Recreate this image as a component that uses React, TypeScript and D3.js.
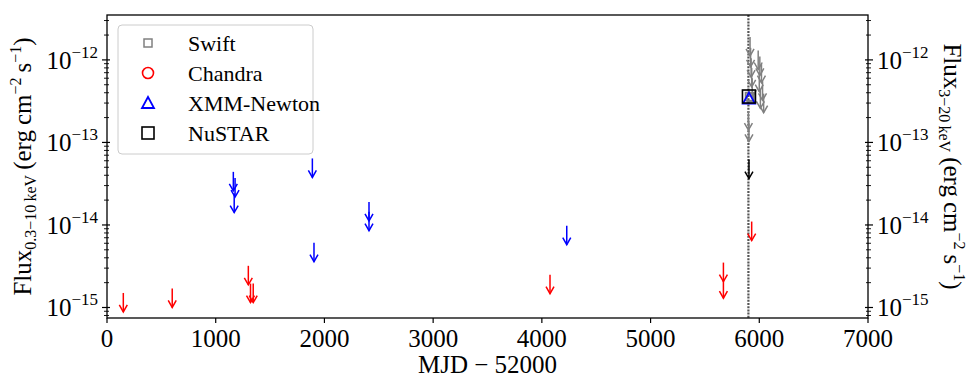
import { useEffect, useRef } from 'react'
import * as d3 from 'd3'

// upper limits (0.3-10 keV) and detections
const chandraMjd = [150, 600, 1300, 1320, 1345, 4075, 5670, 5670, 5930]
const chandraUL = [1.5e-15, 1.7e-15, 3.2e-15, 1.95e-15, 1.95e-15, 2.5e-15, 3.5e-15, 2.2e-15, 1.1e-14]

const xmmMjd = [1162, 1178, 1170, 1889, 1904, 2410, 2410, 4229]
const xmmUL = [4.4e-14, 3.7e-14, 2.4e-14, 6.4e-14, 6.1e-15, 1.9e-14, 1.45e-14, 9.8e-15]
const xmmDetMjd = [5905]
const xmmDet = [3.4e-13]

const swiftMjd = [5915, 5920, 5925, 5930, 5935, 5990, 6005, 6020, 6000, 6030, 6010, 6040, 5900, 5905]
const swiftUL = [1.9e-12, 1.4e-12, 1.05e-12, 8.0e-13, 6.0e-13, 1.3e-12, 1.1e-12, 9.0e-13, 7.0e-13, 5.5e-13, 4.4e-13, 3.9e-13, 2.4e-13, 1.75e-13]
const swiftDetMjd = [5910, 5925]
const swiftDet = [3.6e-13, 3.5e-13]

const nustarDetMjd = [5905]
const nustarDet = [3.6e-13]
const nustarUlMjd = [5905]
const nustarUL = [6.2e-14]

const markerMjd = 5900

const xTicks = [0, 1000, 2000, 3000, 4000, 5000, 6000, 7000]
const yTickExp = [-12, -13, -14, -15]
const xDomain = [0, 7000]
const yDomain = [7.46e-16, 3.5e-12]

const legendItems = [
  { label: 'Swift', color: 'gray', shape: 'smallsquare' },
  { label: 'Chandra', color: 'red', shape: 'circle' },
  { label: 'XMM-Newton', color: 'blue', shape: 'triangle' },
  { label: 'NuSTAR', color: 'black', shape: 'square' },
]

const FONT = "'Liberation Serif', 'DejaVu Serif', serif"

function App() {
  const ref = useRef<SVGSVGElement | null>(null)

  useEffect(() => {
    if (!ref.current) return
    const width = 969, height = 382
    const margin = { top: 15, right: 101, bottom: 64, left: 107 }
    const x0 = margin.left, x1 = width - margin.right
    const y0 = margin.top, y1 = height - margin.bottom

    const svg = d3.select(ref.current)
    svg.selectAll('*').remove()

    const x = d3.scaleLinear().domain(xDomain).range([x0, x1])
    const y = d3.scaleLog().domain(yDomain).range([y1, y0])

    // vertical marker line
    svg.append('line')
      .attr('x1', x(markerMjd)).attr('x2', x(markerMjd))
      .attr('y1', y0).attr('y2', y1)
      .attr('stroke', '#555').attr('stroke-width', 2.2)
      .attr('stroke-dasharray', '2 1.2')

    const arrowLen = 19
    const drawArrows = (mjd: number[], vals: number[], color: string) => {
      const g = svg.append('g').attr('stroke', color).attr('fill', 'none').attr('stroke-width', 1.5)
      mjd.forEach((m, i) => {
        const px = x(m), py = y(vals[i]), pb = py + arrowLen
        g.append('line').attr('x1', px).attr('x2', px).attr('y1', py).attr('y2', pb)
        g.append('path').attr('d', `M${px - 4},${pb - 7}L${px},${pb}L${px + 4},${pb - 7}`)
      })
    }

    drawArrows(swiftMjd, swiftUL, 'gray')
    drawArrows(chandraMjd, chandraUL, 'red')
    drawArrows(xmmMjd, xmmUL, 'blue')
    drawArrows(nustarUlMjd, nustarUL, 'black')

    // detections
    swiftDetMjd.forEach((m, i) => {
      svg.append('rect')
        .attr('x', x(m) - 4).attr('y', y(swiftDet[i]) - 4).attr('width', 8).attr('height', 8)
        .attr('fill', 'none').attr('stroke', 'gray').attr('stroke-width', 1.5)
    })
    xmmDetMjd.forEach((m, i) => {
      const cx = x(m), cy = y(xmmDet[i])
      svg.append('path')
        .attr('d', `M${cx},${cy - 6}L${cx + 6},${cy + 5}L${cx - 6},${cy + 5}Z`)
        .attr('fill', 'none').attr('stroke', 'blue').attr('stroke-width', 1.8)
    })
    nustarDetMjd.forEach((m, i) => {
      svg.append('rect')
        .attr('x', x(m) - 6.5).attr('y', y(nustarDet[i]) - 6.5).attr('width', 13).attr('height', 13)
        .attr('fill', 'none').attr('stroke', 'black').attr('stroke-width', 1.6)
    })

    // frame
    svg.append('rect')
      .attr('x', x0).attr('y', y0).attr('width', x1 - x0).attr('height', y1 - y0)
      .attr('fill', 'none').attr('stroke', 'black').attr('stroke-width', 1.3)

    // x ticks
    const xg = svg.append('g')
    xTicks.forEach(t => {
      xg.append('line').attr('x1', x(t)).attr('x2', x(t)).attr('y1', y1).attr('y2', y1 + 5)
        .attr('stroke', 'black').attr('stroke-width', 1.2)
      xg.append('text').attr('x', x(t)).attr('y', y1 + 29)
        .attr('text-anchor', 'middle').attr('font-family', FONT).attr('font-size', 25)
        .text(t)
    })
    svg.append('text').attr('x', (x0 + x1) / 2).attr('y', 373)
      .attr('text-anchor', 'middle').attr('font-family', FONT).attr('font-size', 25)
      .text('MJD \u2212 52000')

    // y ticks (both sides)
    const minor: number[] = []
    for (let e = -16; e <= -12; e++) {
      for (let k = 2; k <= 9; k++) {
        const v = k * Math.pow(10, e)
        if (v > yDomain[0] && v < yDomain[1]) minor.push(v)
      }
    }
    const yg = svg.append('g').attr('stroke', 'black')
    ;[x0, x1].forEach((ax, side) => {
      const dir = side === 0 ? -1 : 1
      minor.forEach(v => {
        yg.append('line').attr('x1', ax - dir * 2).attr('x2', ax + dir * 3)
          .attr('y1', y(v)).attr('y2', y(v)).attr('stroke-width', 0.9)
      })
      yTickExp.forEach(e => {
        const v = Math.pow(10, e)
        yg.append('line').attr('x1', ax - dir * 3).attr('x2', ax + dir * 5)
          .attr('y1', y(v)).attr('y2', y(v)).attr('stroke-width', 1.2)
        const t = svg.append('text')
          .attr('x', side === 0 ? ax - 9 : ax + 9)
          .attr('y', y(v) + 9)
          .attr('text-anchor', side === 0 ? 'end' : 'start')
          .attr('font-family', FONT).attr('font-size', 25)
        t.append('tspan').text('10')
        t.append('tspan').attr('font-size', 17).attr('dy', -11).text(`\u2212${-e}`)
      })
    })

    // axis labels with sub/superscripts
    const mathLabel = (tx: number, ty: number, rot: number, sub: string) => {
      const t = svg.append('text')
        .attr('transform', `translate(${tx},${ty}) rotate(${rot})`)
        .attr('text-anchor', 'middle').attr('font-family', FONT).attr('font-size', 25)
      t.append('tspan').text('Flux')
      t.append('tspan').attr('font-size', 16).attr('dy', 5).text(sub)
      t.append('tspan').attr('dy', -5).text('\u2009(erg\u2009cm')
      t.append('tspan').attr('font-size', 16).attr('dy', -10).text('\u22122')
      t.append('tspan').attr('dy', 10).text('\u2009s')
      t.append('tspan').attr('font-size', 16).attr('dy', -10).text('\u22121')
      t.append('tspan').attr('dy', 10).text(')')
    }
    mathLabel(31, (y0 + y1) / 2, -90, '0.3\u221210\u2009keV')
    mathLabel(944, (y0 + y1) / 2, 90, '3\u221220\u2009keV')

    // legend
    const lg = svg.append('g')
    lg.append('rect').attr('x', 118).attr('y', 25).attr('width', 195).attr('height', 129)
      .attr('rx', 4).attr('fill', 'white').attr('fill-opacity', 0.8)
      .attr('stroke', '#cccccc').attr('stroke-width', 1)
    legendItems.forEach((d, i) => {
      const cy = 43 + i * 30, cx = 148
      if (d.shape === 'smallsquare') {
        lg.append('rect').attr('x', cx - 4).attr('y', cy - 4).attr('width', 8).attr('height', 8)
          .attr('fill', 'none').attr('stroke', d.color).attr('stroke-width', 1.5)
      } else if (d.shape === 'circle') {
        lg.append('circle').attr('cx', cx).attr('cy', cy).attr('r', 5.5)
          .attr('fill', 'none').attr('stroke', d.color).attr('stroke-width', 1.6)
      } else if (d.shape === 'triangle') {
        lg.append('path').attr('d', `M${cx},${cy - 6}L${cx + 6},${cy + 5}L${cx - 6},${cy + 5}Z`)
          .attr('fill', 'none').attr('stroke', d.color).attr('stroke-width', 1.8)
      } else {
        lg.append('rect').attr('x', cx - 6).attr('y', cy - 6).attr('width', 12).attr('height', 12)
          .attr('fill', 'none').attr('stroke', d.color).attr('stroke-width', 1.6)
      }
      lg.append('text').attr('x', 188).attr('y', cy + 8)
        .attr('font-family', FONT).attr('font-size', 22).text(d.label)
    })
  }, [])

  return (
    <svg ref={ref} width={969} height={382}
      style={{ position: 'fixed', left: 0, top: 0, background: 'white' }} />
  )
}

export default App
